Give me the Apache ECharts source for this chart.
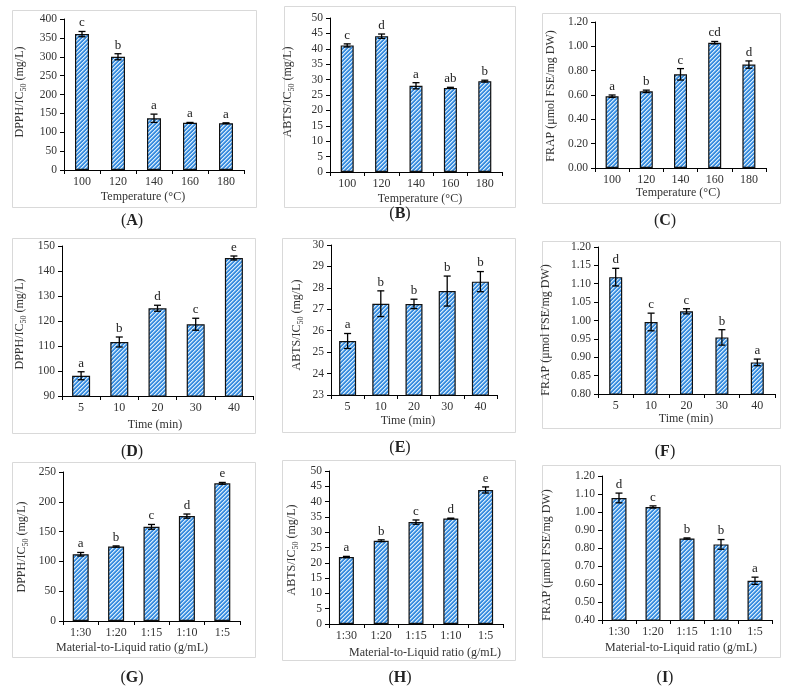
<!DOCTYPE html>
<html><head><meta charset="utf-8">
<script src="https://cdn.jsdelivr.net/npm/echarts@6/dist/echarts.min.js"></script>
<style>html,body{margin:0;padding:0;background:#fff}#c{width:794px;height:690px}</style>
</head><body><div id="c"></div>
<script>
// ---- categories ----
const catsTemp = ['100', '120', '140', '160', '180'];
const catsTime = ['5', '10', '20', '30', '40'];
const catsRatio = ['1:30', '1:20', '1:15', '1:10', '1:5'];

// ---- (A) DPPH vs temperature ----
const dpphTemp = [360, 300, 137, 125, 124];
const dpphTempErr = [7, 8, 11, 1, 1];
const dpphTempSig = ['c', 'b', 'a', 'a', 'a'];
// ---- (B) ABTS vs temperature ----
const abtsTemp = [41.1, 44.1, 28.0, 27.3, 29.5];
const abtsTempErr = [0.5, 0.7, 1.0, 0.2, 0.3];
const abtsTempSig = ['c', 'd', 'a', 'ab', 'b'];
// ---- (C) FRAP vs temperature ----
const frapTemp = [0.59, 0.63, 0.77, 1.03, 0.85];
const frapTempErr = [0.01, 0.01, 0.047, 0.01, 0.03];
const frapTempSig = ['a', 'b', 'c', 'cd', 'd'];
// ---- (D) DPPH vs time ----
const dpphTime = [98.1, 111.6, 125.1, 118.7, 145.2];
const dpphTimeErr = [1.6, 2.0, 1.2, 2.4, 0.8];
const dpphTimeSig = ['a', 'b', 'd', 'c', 'e'];
// ---- (E) ABTS vs time ----
const abtsTime = [25.52, 27.26, 27.25, 27.85, 28.29];
const abtsTimeErr = [0.35, 0.6, 0.22, 0.7, 0.47];
const abtsTimeSig = ['a', 'b', 'b', 'b', 'b'];
// ---- (F) FRAP vs time ----
const frapTime = [1.118, 0.996, 1.025, 0.954, 0.886];
const frapTimeErr = [0.024, 0.024, 0.007, 0.021, 0.009];
const frapTimeSig = ['d', 'c', 'c', 'b', 'a'];
// ---- (G) DPPH vs ratio ----
const dpphRatio = [112, 125, 158, 176, 231];
const dpphRatioErr = [3, 1, 4, 3.5, 1.5];
const dpphRatioSig = ['a', 'b', 'c', 'd', 'e'];
// ---- (H) ABTS vs ratio ----
const abtsRatio = [21.9, 27.2, 33.3, 34.5, 43.8];
const abtsRatioErr = [0.2, 0.3, 0.7, 0.1, 1.0];
const abtsRatioSig = ['a', 'b', 'c', 'd', 'e'];
// ---- (I) FRAP vs ratio ----
const frapRatio = [1.078, 1.028, 0.853, 0.82, 0.618];
const frapRatioErr = [0.027, 0.006, 0.003, 0.027, 0.02];
const frapRatioSig = ['d', 'c', 'b', 'b', 'a'];

// ---- titles ----
const xTitleTemp = 'Temperature (°C)';
const xTitleTime = 'Time (min)';
const xTitleRatio = 'Material-to-Liquid ratio (g/mL)';
const yTitleDPPH = 'DPPH/IC{s|50} (mg/L)';
const yTitleABTS = 'ABTS/IC{s|50} (mg/L)';
const yTitleFRAP = 'FRAP (μmol FSE/mg DW)';
const panelLetters = ['A', 'B', 'C', 'D', 'E', 'F', 'G', 'H', 'I'];

// ---- layout (positions / styles) ----
const FONT = '"Liberation Serif", "Times New Roman", serif';
const panels = [
  {cats: catsTemp, vals: dpphTemp, errs: dpphTempErr, sig: dpphTempSig, g: [64, 244, 19, 170], min: 0, max: 400, iv: 50, dec: 0, bw: 14, box: [12, 10, 256, 207], xt: xTitleTemp, xp: [143, 197], yt: yTitleDPPH, yp: [20, 92], lp: [132, 221]},
  {cats: catsTemp, vals: abtsTemp, errs: abtsTempErr, sig: abtsTempSig, g: [330, 502, 18, 172], min: 0, max: 50, iv: 5, dec: 0, bw: 13, box: [284, 6, 515, 207], xt: xTitleTemp, xp: [420, 199], yt: yTitleABTS, yp: [288, 92], lp: [400, 214]},
  {cats: catsTemp, vals: frapTemp, errs: frapTempErr, sig: frapTempSig, g: [595, 766, 22, 168], min: 0, max: 1.2, iv: 0.2, dec: 2, bw: 13, box: [542, 13, 780, 203], xt: xTitleTemp, xp: [678, 193], yt: yTitleFRAP, yp: [551, 96], lp: [665, 221]},
  {cats: catsTime, vals: dpphTime, errs: dpphTimeErr, sig: dpphTimeSig, g: [62, 253, 246, 396], min: 90, max: 150, iv: 10, dec: 0, bw: 18, box: [12, 238, 255, 433], xt: xTitleTime, xp: [155, 425], yt: yTitleDPPH, yp: [20, 324], lp: [132, 452]},
  {cats: catsTime, vals: abtsTime, errs: abtsTimeErr, sig: abtsTimeSig, g: [331, 497, 245, 395], min: 23, max: 30, iv: 1, dec: 0, bw: 17, box: [282, 238, 515, 432], xt: xTitleTime, xp: [408, 421], yt: yTitleABTS, yp: [297, 325], lp: [400, 448]},
  {cats: catsTime, vals: frapTime, errs: frapTimeErr, sig: frapTimeSig, g: [598, 775, 247, 394], min: 0.8, max: 1.2, iv: 0.05, dec: 2, bw: 13, box: [542, 241, 780, 428], xt: xTitleTime, xp: [686, 419], yt: yTitleFRAP, yp: [546, 330], lp: [665, 452]},
  {cats: catsRatio, vals: dpphRatio, errs: dpphRatioErr, sig: dpphRatioSig, g: [63, 240, 472, 621], min: 0, max: 250, iv: 50, dec: 0, bw: 16, box: [12, 462, 255, 657], xt: xTitleRatio, xp: [132, 648], yt: yTitleDPPH, yp: [22, 547], lp: [132, 678]},
  {cats: catsRatio, vals: abtsRatio, errs: abtsRatioErr, sig: abtsRatioSig, g: [329, 503, 471, 624], min: 0, max: 50, iv: 5, dec: 0, bw: 15, box: [282, 460, 515, 660], xt: xTitleRatio, xp: [425, 653], yt: yTitleABTS, yp: [292, 550], lp: [400, 678]},
  {cats: catsRatio, vals: frapRatio, errs: frapRatioErr, sig: frapRatioSig, g: [602, 772, 476, 620], min: 0.4, max: 1.2, iv: 0.1, dec: 2, bw: 15, box: [542, 465, 780, 657], xt: xTitleRatio, xp: [681, 648], yt: yTitleFRAP, yp: [547, 555], lp: [665, 678]}
];

// hatched pattern
function makePattern() {
  const c = document.createElement('canvas');
  c.width = 4; c.height = 4;
  const ctx = c.getContext('2d');
  for (let x = 0; x < 4; x++) for (let y = 0; y < 4; y++) {
    const k = (x + y) % 4;
    ctx.fillStyle = k === 0 ? '#d6ebfb' : (k === 1 ? '#8fc2ef' : '#3a8ddf');
    ctx.fillRect(x, y, 1, 1);
  }
  return c;
}
const pattern = {image: makePattern(), repeat: 'repeat'};

const grids = [], xAxes = [], yAxes = [], series = [], graphics = [];
panels.forEach((p, i) => {
  const [l, r, t, b] = p.g;
  grids.push({left: l, top: t, width: r - l, height: b - t, containLabel: false});
  xAxes.push({
    type: 'category', gridIndex: i, data: p.cats,
    axisLine: {lineStyle: {color: '#000', width: 1}},
    axisTick: {show: true, inside: false, length: 4, lineStyle: {color: '#000'}},
    axisLabel: {fontFamily: FONT, fontSize: 12, color: '#333', margin: 6},
    splitLine: {show: false}
  });
  yAxes.push({
    type: 'value', gridIndex: i, min: p.min, max: p.max, interval: p.iv,
    axisLine: {show: true, lineStyle: {color: '#000', width: 1}},
    axisTick: {show: true, inside: false, length: 4, lineStyle: {color: '#000'}},
    axisLabel: {fontFamily: FONT, fontSize: 11.5, color: '#333', margin: 7,
      formatter: v => Number(v).toFixed(p.dec)},
    splitLine: {show: false}
  });
  series.push({
    type: 'bar', xAxisIndex: i, yAxisIndex: i, data: p.vals, barWidth: p.bw,
    clip: true,
    itemStyle: {color: pattern, borderColor: '#111', borderWidth: 1.2},
    z: 2
  });
  const sig = p.sig;
  series.push({
    type: 'custom', xAxisIndex: i, yAxisIndex: i,
    data: p.vals.map((v, k) => [k, v, p.errs[k]]),
    z: 5,
    renderItem: (params, api) => {
      const k = params.dataIndex;
      const v = api.value(1), e = api.value(2);
      const top = api.coord([k, v + e]);
      const bot = api.coord([k, v - e]);
      const x = top[0];
      const cap = 3.5;
      const st = {stroke: '#000', lineWidth: 1.3};
      return {type: 'group', children: [
        {type: 'line', shape: {x1: x, y1: top[1], x2: x, y2: bot[1]}, style: st},
        {type: 'line', shape: {x1: x - cap, y1: top[1], x2: x + cap, y2: top[1]}, style: st},
        {type: 'line', shape: {x1: x - cap, y1: bot[1], x2: x + cap, y2: bot[1]}, style: st},
        {type: 'text', x: x, y: top[1] - 2, style: {text: sig[k], align: 'center', verticalAlign: 'bottom',
          fontFamily: FONT, fontSize: 13, fill: '#222'}}
      ]};
    }
  });
  // frame
  graphics.push({type: 'rect', z: -1, shape: {x: p.box[0] + 0.5, y: p.box[1] + 0.5, width: p.box[2] - p.box[0], height: p.box[3] - p.box[1]},
    style: {fill: 'none', stroke: '#d9d9d9', lineWidth: 1}});
  // x title
  graphics.push({type: 'text', x: p.xp[0], y: p.xp[1], style: {text: p.xt, align: 'center', verticalAlign: 'middle',
    fontFamily: FONT, fontSize: 12, fill: '#333'}});
  // y title (rotated)
  graphics.push({type: 'text', x: p.yp[0], y: p.yp[1], rotation: Math.PI / 2,
    style: {text: '{n|' + p.yt.replace('{s|50}', '}{s|50}{n|') + '}', align: 'center', verticalAlign: 'middle',
      fontFamily: FONT, fill: '#333',
      rich: {n: {fontFamily: FONT, fontSize: 12, lineHeight: 16, fill: '#333'},
             s: {fontFamily: FONT, fontSize: 8, lineHeight: 8, verticalAlign: 'bottom', fill: '#333'}}}});
  // panel label
  graphics.push({type: 'text', x: p.lp[0], y: p.lp[1], style: {text: '{p|(}{b|' + panelLetters[i] + '}{p|)}', align: 'center', verticalAlign: 'middle',
    rich: {p: {fontFamily: FONT, fontSize: 16, fill: '#222'}, b: {fontFamily: FONT, fontSize: 16, fontWeight: 'bold', fill: '#222'}}}});
});

const chart = echarts.init(document.getElementById('c'), null, {renderer: 'canvas', width: 794, height: 690});
chart.setOption({
  animation: false,
  backgroundColor: '#fff',
  grid: grids, xAxis: xAxes, yAxis: yAxes, series: series, graphic: graphics
});
</script></body></html>
